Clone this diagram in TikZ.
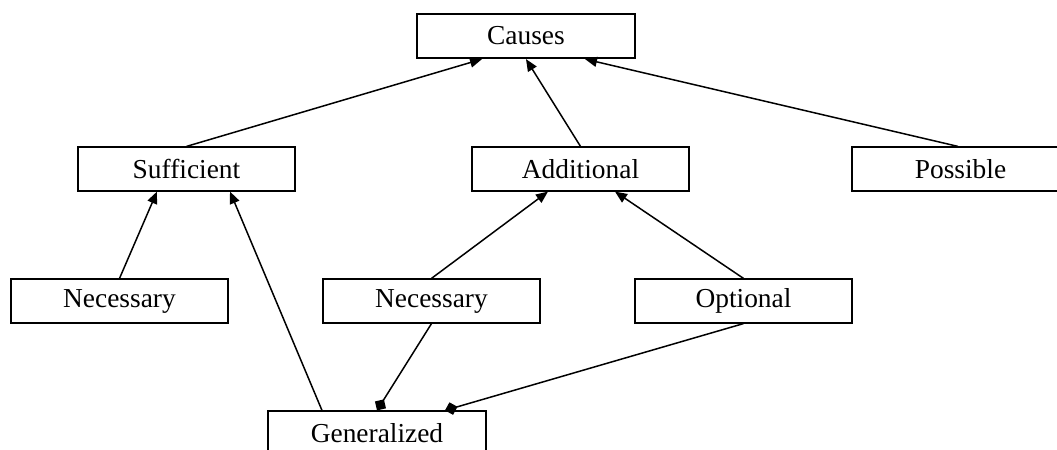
\documentclass[tikz,border=0pt]{standalone}
\usepackage{fontspec}
\setmainfont{Liberation Serif}
\usepackage{tikz}
\usetikzlibrary{arrows.meta}

\begin{document}
\begin{tikzpicture}[
        x=0.5pt, y=-0.5pt,
        >={Triangle[length=6pt, width=5pt]},
        classe/.style={rectangle, draw, line width=0.6pt, minimum width=108.5pt,
            minimum height=22pt, inner sep=0pt, font=\fontsize{13.7}{16}\selectfont},
        lien/.style={line width=0.75pt, ->},
        lienlosange/.style={line width=0.75pt, -{Diamond[length=6.5pt, width=6.5pt]}}
    ]
    \clip (0,0) rectangle (1057,450);
    \useasboundingbox (0,0) rectangle (1057,450);

    % -- Position des noeuds --
    \node[classe, line width=1.1pt, minimum width=109pt] (causes) at (526,36)  {Causes};
    \node[classe] (suff)  at (186.5,169) {Sufficient};
    \node[classe] (add)   at (580.5,169) {Additional};
    \node[classe] (poss)  at (960.5,169) {Possible};
    \node[classe] (nec1)  at (119.5,301) {Necessary};
    \node[classe] (nec2)  at (431.5,301) {Necessary};
    \node[classe] (opt)   at (743.5,301) {Optional};
    \node[classe, minimum width=109pt] (gen) at (377,433) {Generalized};

    % -- Position des arcs --
    % vers Causes :
    \draw[lien] (suff.north) -- ([xshift=-22pt]causes.south);
    \draw[lien] (add.north) -- (causes.south);
    \draw[lien] ([xshift=-1.25pt]poss.north) -- ([xshift=29.5pt]causes.south);

    % vers Sufficient :
    \draw[lien] (nec1.north) -- ([xshift=-14.75pt]suff.south);
    \draw[lien] ([xshift=-27.5pt]gen.north) -- ([xshift=21.75pt]suff.south);

    % vers Additional :
    \draw[lien] (nec2.north) -- ([xshift=-16.25pt]add.south);
    \draw[lien] (opt.north) -- ([xshift=17.25pt]add.south);

    % vers Generalized :
    \draw[lienlosange] (nec2.south) -- (gen.north);
    \draw[lienlosange] (opt.south) -- ([xshift=34pt]gen.north);

\end{tikzpicture}
\end{document}
